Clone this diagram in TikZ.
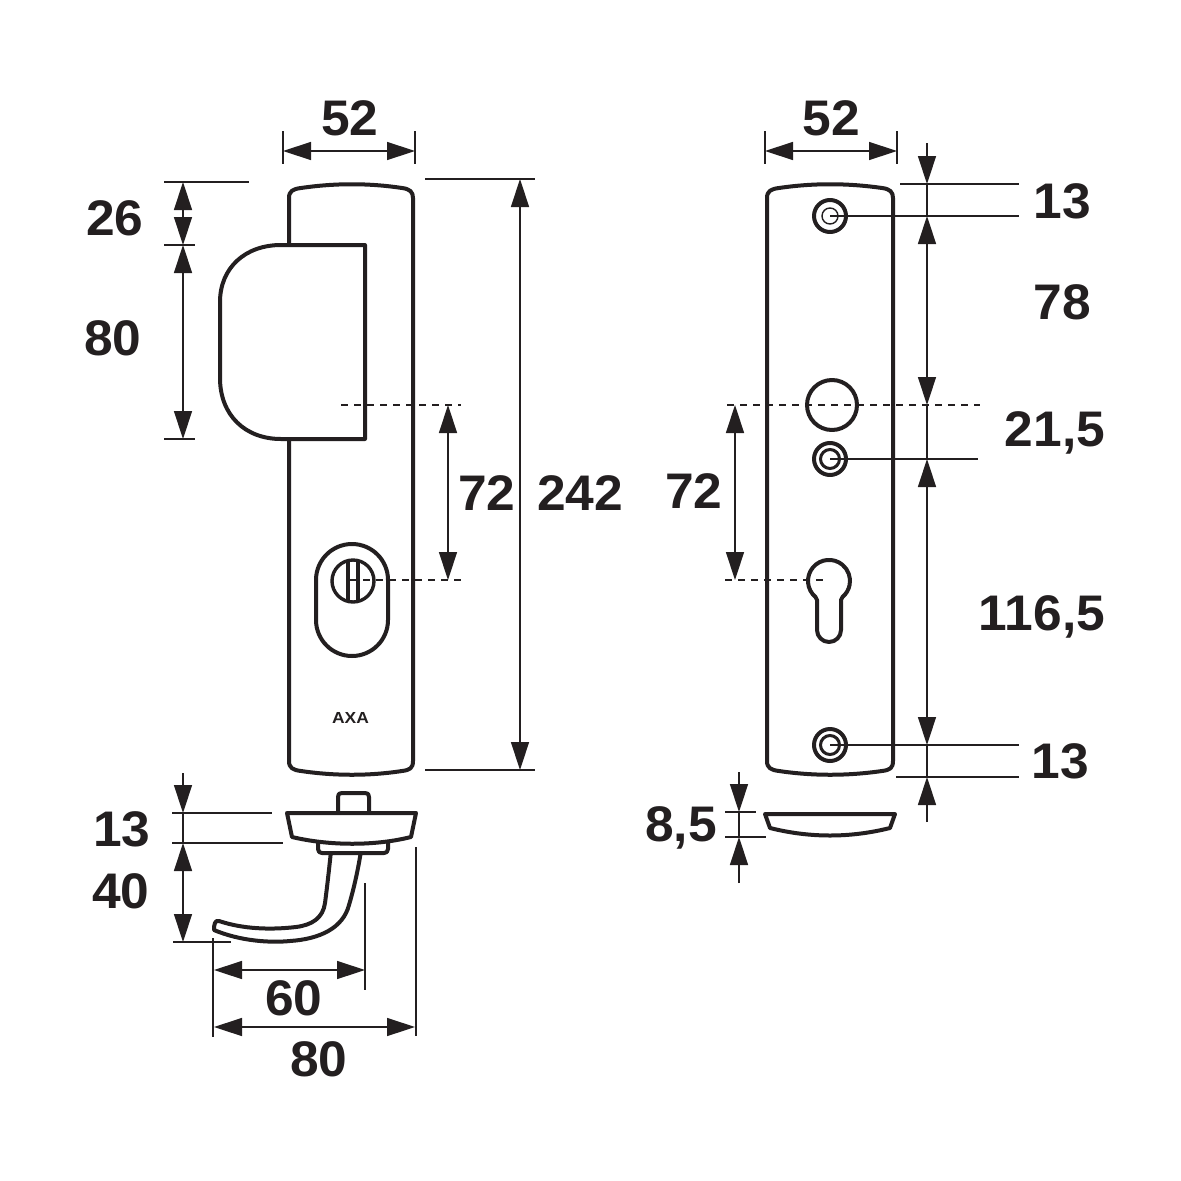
\documentclass[tikz,border=0pt]{standalone}
\usepackage{fontspec}
\setmainfont{Liberation Sans}
\usetikzlibrary{arrows.meta}
\definecolor{ink}{HTML}{231F20}
\tikzset{
  outline/.style={draw=ink, line width=4pt, line join=round, fill=white},
  thinline/.style={draw=ink, line width=1.4pt},
  dashline/.style={thinline, dash pattern=on 7pt off 6pt},
  dimboth/.style={thinline, {Triangle[length=28pt,width=18pt]}-{Triangle[length=28pt,width=18pt]}},
  dimend/.style={thinline, -{Triangle[length=28pt,width=18pt]}},
  dimtext/.style={text=ink, inner sep=0pt, xscale=1.03, transform shape, font=\fontsize{50}{50}\selectfont\bfseries},
}
\begin{document}
\begin{tikzpicture}[x=1pt,y=-1pt]
\useasboundingbox[fill=white] (0,0) rectangle (1181,1181);
% left plate
\draw[outline] (289,245) -- (289,198) .. controls (289,191) and (293,189) .. (301,188)
  .. controls (335,183) and (369,183) .. (402,188) .. controls (410,189) and (413,192) .. (413,198)
  -- (413,761) .. controls (413,768) and (410,770) .. (402,771) .. controls (369,776) and (335,776) .. (301,771)
  .. controls (293,770) and (289,768) .. (289,761) -- (289,439);
% rose of the handle
\draw[outline] (365,245) -- (281,245) .. controls (245,245) and (220,268) .. (220,302) -- (220,378)
  .. controls (220,415) and (245,439) .. (281,439) -- (365,439) -- cycle;
% cylinder cover
\draw[outline] (316,580) arc[start angle=180,end angle=360,radius=36] -- (388,620)
  arc[start angle=0,end angle=180,radius=36] -- cycle;
\draw[outline, line width=3.4pt] (353,581) circle[radius=21];
\draw[draw=ink, line width=3.4pt] (348,560) -- (348,602) (358,560) -- (358,602);
\node[text=ink, inner sep=0pt, font=\fontsize{16}{16}\selectfont\bfseries, xscale=1.09, transform shape] (brand) at (350.5,717.5) {AXA};
% handle from below
\draw[outline] (338,813) -- (338,797) .. controls (338,794) and (339,793) .. (342,793) -- (365,793)
  .. controls (368,793) and (369,794) .. (369,797) -- (369,813);
\draw[outline] (331,851) .. controls (329,870) and (327,888) .. (325,903) .. controls (323,918) and (312,925) .. (296,927)
  .. controls (270,930) and (243,929) .. (219,921) .. controls (215,920) and (214,924) .. (214,930)
  .. controls (240,941) and (270,943) .. (290,941) .. controls (320,939) and (343,928) .. (349,905)
  .. controls (354,888) and (358,870) .. (361,851);
\draw[outline] (318,842) -- (318,849) .. controls (318,852) and (320,853) .. (322,853) -- (384,853)
  .. controls (386,853) and (388,852) .. (388,849) -- (388,840);
\draw[outline] (287,813) -- (416,813) -- (411,837) .. controls (375,846) and (330,846) .. (292,837) -- cycle;
% right plate
\draw[outline] (767,198) .. controls (767,191) and (771,189) .. (779,188)
  .. controls (813,183) and (847,183) .. (882,188) .. controls (890,189) and (893,192) .. (893,198)
  -- (893,761) .. controls (893,768) and (890,770) .. (882,771) .. controls (847,776) and (813,776) .. (779,771)
  .. controls (771,770) and (767,768) .. (767,761) -- cycle;
\draw[outline] (832,405) circle[radius=25];
\draw[outline] (815.5,597) arc[start angle=130,end angle=410,radius=21] -- (841,600) -- (841,630)
  arc[start angle=0,end angle=180,radius=12] -- (817,600) -- cycle;
\foreach \sy in {216,459,745}{
  \draw[outline] (830,\sy) circle[radius=16];
}
\draw[thinline] (830,216) circle[radius=8];
\foreach \sy in {459,745}{
  \draw[draw=ink, line width=3pt] (830,\sy) circle[radius=9.5];
}
\draw[outline] (765,814) -- (895,814) -- (890,828) .. controls (850,838) and (810,838) .. (770,828) -- cycle;
% dimensions of the left view
\draw[thinline] (283,131) -- (283,164) (415,131) -- (415,164);
\draw[dimboth] (283,151) -- (415,151);
\draw[thinline] (164,182) -- (249,182) (164,245) -- (195,245) (164,439) -- (195,439);
\draw[dimboth] (183,182) -- (183,245);
\draw[dimboth] (183,245) -- (183,439);
\draw[thinline] (425,179) -- (535,179) (425,770) -- (535,770);
\draw[dimboth] (520,179) -- (520,770);
\draw[dashline] (341,405) -- (461,405) (350,580) -- (461,580);
\draw[dimboth] (448,405) -- (448,580);
\draw[thinline] (172,813) -- (272,813) (172,843) -- (283,843) (173,942) -- (231,942);
\draw[dimend] (183,773) -- (183,813);
\draw[thinline] (183,813) -- (183,843);
\draw[dimboth] (183,843) -- (183,942);
\draw[thinline] (213,938) -- (213,1037) (365,883) -- (365,990) (416,847) -- (416,1036);
\draw[dimboth] (214,970) -- (365,970);
\draw[dimboth] (214,1027) -- (415,1027);
% dimensions of the right view
\draw[thinline] (765,131) -- (765,164) (897,131) -- (897,164);
\draw[dimboth] (765,151) -- (897,151);
\draw[thinline] (900,184) -- (1019,184) (830,216) -- (1019,216) (830,459) -- (978,459) (830,745) -- (1019,745) (896,777) -- (1019,777);
\draw[dashline] (727,405) -- (980,405) (725,580) -- (825,580);
\draw[dimend] (927,143) -- (927,184);
\draw[thinline] (927,184) -- (927,216);
\draw[dimboth] (927,216) -- (927,405);
\draw[thinline] (927,405) -- (927,459);
\draw[dimboth] (927,459) -- (927,745);
\draw[thinline] (927,745) -- (927,777);
\draw[dimend] (927,822) -- (927,777);
\draw[dimboth] (735,405) -- (735,580);
\draw[thinline] (725,812) -- (756,812) (725,837) -- (766,837) (739,812) -- (739,837);
\draw[dimend] (739,772) -- (739,812);
\draw[dimend] (739,883) -- (739,837);
% labels
\node[dimtext] (wleft) at (350,118) {52};
\node[dimtext] (wright) at (831,118) {52};
\node[dimtext] (hleft) at (115,218) {26};
\node[dimtext] (hrose) at (113,338) {80};
\node[dimtext] (pleft) at (487,493) {72};
\node[dimtext] (htotal) at (580,493) {242};
\node[dimtext] (hflange) at (122,829) {13};
\node[dimtext] (hdrop) at (121,891) {40};
\node[dimtext] (wreach) at (294,998) {60};
\node[dimtext] (wtotal) at (319,1059) {80};
\node[dimtext] (stop) at (1062,201) {13};
\node[dimtext] (sfirst) at (1062,302) {78};
\node[dimtext] (ssecond) at (1055,433) {21,5};
\node[dimtext] (pright) at (694,491) {72};
\node[dimtext] (sthird) at (1042,617) {116,5};
\node[dimtext] (sbottom) at (1060,761) {13};
\node[dimtext] (thick) at (681,828) {8,5};
\end{tikzpicture}
\end{document}
